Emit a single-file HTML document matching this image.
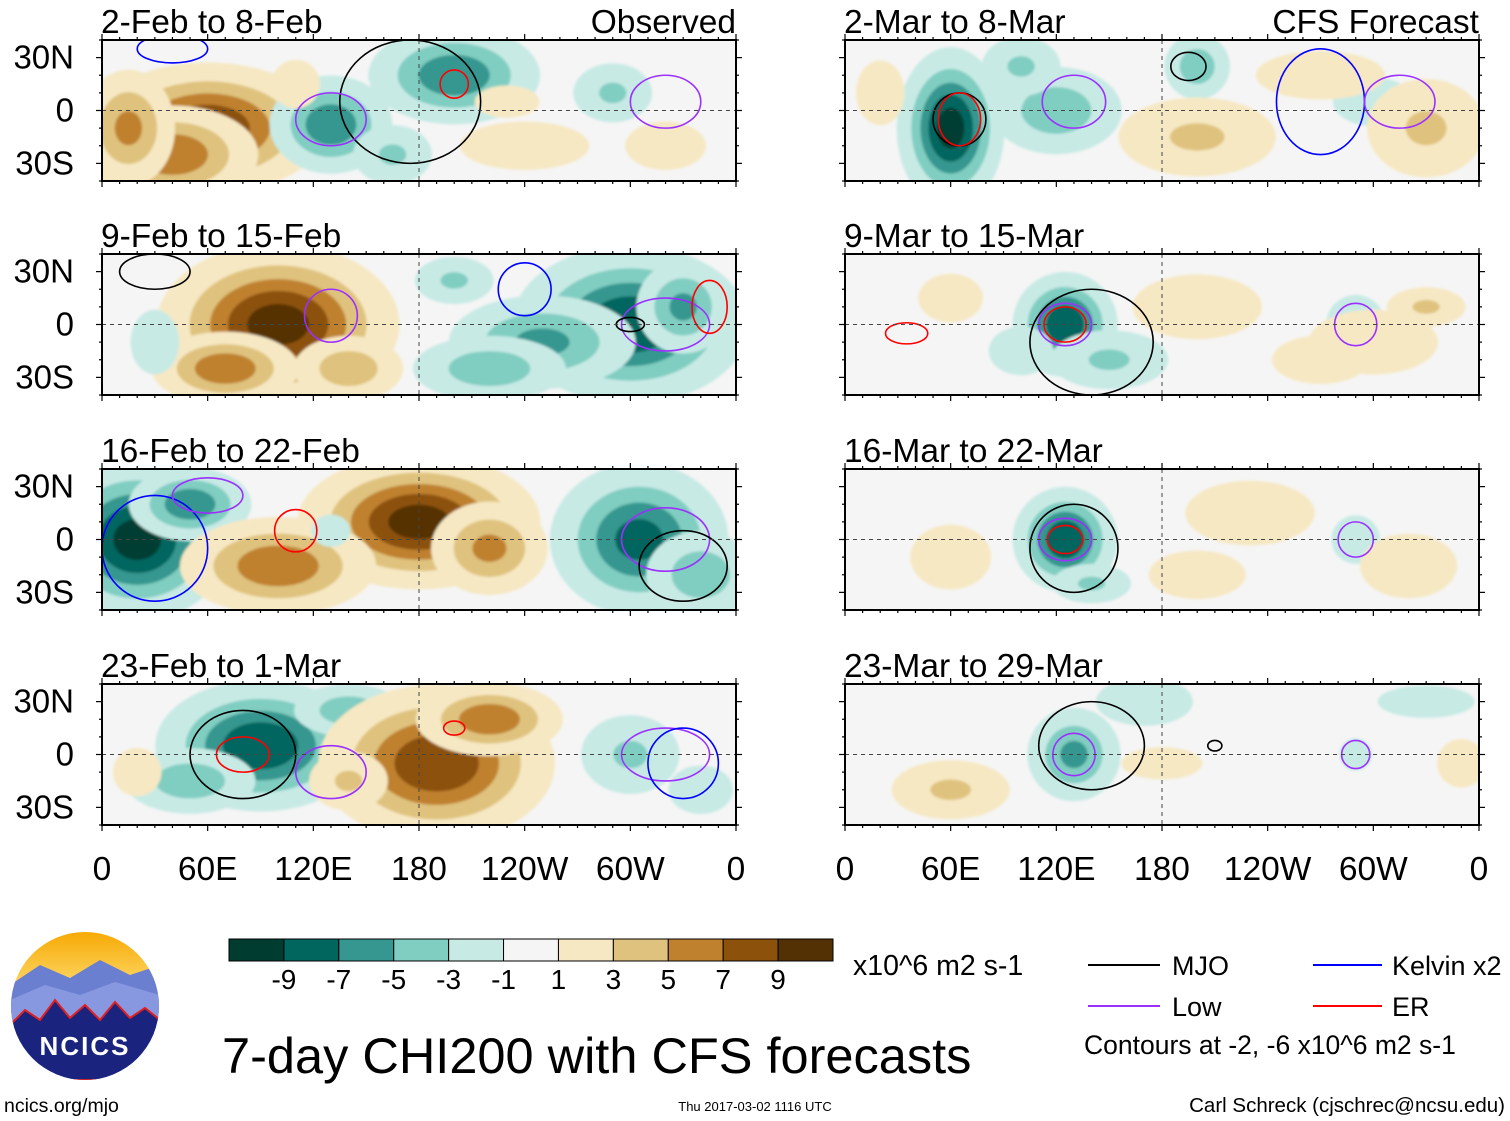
<!DOCTYPE html>
<html><head><meta charset="utf-8"><style>
html,body{margin:0;padding:0;background:#fff;}
svg{display:block;font-family:"Liberation Sans",Arial,sans-serif;}
</style></head><body>
<svg id="fig" width="1510" height="1121" viewBox="0 0 1510 1121" xmlns="http://www.w3.org/2000/svg">
<defs>
<linearGradient id="sky" x1="0" y1="0" x2="0" y2="1"><stop offset="0" stop-color="#f6a800"/><stop offset="0.45" stop-color="#ffe07a"/><stop offset="0.55" stop-color="#c9d8f0"/></linearGradient>
<clipPath id="logoclip"><circle cx="85" cy="1006" r="74"/></clipPath>
<filter id="soft" x="-5%" y="-5%" width="110%" height="110%"><feGaussianBlur stdDeviation="1.2"/></filter>
</defs>
<g id="panels"></g>
<g id="bottom">
<g clip-path="url(#logoclip)">
<rect x="10" y="930" width="150" height="150" fill="url(#sky)"/>
<path d="M10 985 L40 965 L70 978 L100 960 L130 975 L160 965 L160 1080 L10 1080Z" fill="#6b7fd0"/>
<path d="M10 1000 L45 985 L80 995 L115 982 L160 995 L160 1080 L10 1080Z" fill="#8898e0"/>
<path d="M10 1025 L25 1010 L40 1020 L55 1000 L70 1018 L85 1005 L100 1020 L115 1002 L130 1018 L145 1008 L160 1020 L160 1080 L10 1080Z" fill="#1a237e" stroke="#e02020" stroke-width="2"/>
<text x="85" y="1055" text-anchor="middle" font-size="26" font-weight="bold" fill="#fff" letter-spacing="2">NCICS</text>
</g>
<g id="cbar"></g>
<text x="853" y="975" font-size="28.5">x10^6 m2 s-1</text>
<text x="222" y="1073" font-size="50.5">7-day CHI200 with CFS forecasts</text>
<g>
<line x1="1088" y1="965" x2="1160" y2="965" stroke="#000" stroke-width="2"/><text x="1172" y="975" font-size="27">MJO</text>
<line x1="1313" y1="965" x2="1382" y2="965" stroke="#0000ff" stroke-width="2"/><text x="1392" y="975" font-size="27">Kelvin x2</text>
<line x1="1088" y1="1006" x2="1160" y2="1006" stroke="#9b30ff" stroke-width="2"/><text x="1172" y="1016" font-size="27">Low</text>
<line x1="1313" y1="1006" x2="1382" y2="1006" stroke="#ff0000" stroke-width="2"/><text x="1392" y="1016" font-size="27">ER</text>
<text x="1084" y="1054" font-size="26.5">Contours at -2, -6 x10^6 m2 s-1</text>
</g>
<text x="4" y="1112" font-size="19.5">ncics.org/mjo</text>
<text x="755" y="1111" font-size="13" text-anchor="middle">Thu 2017-03-02 1116 UTC</text>
<text x="1505" y="1112" font-size="20.5" text-anchor="end">Carl Schreck (cjschrec@ncsu.edu)</text>
</g>
</svg>
<script>
// ---- data ----
const panelTitles = ["2-Feb to 8-Feb","9-Feb to 15-Feb","16-Feb to 22-Feb","23-Feb to 1-Mar","2-Mar to 8-Mar","9-Mar to 15-Mar","16-Mar to 22-Mar","23-Mar to 29-Mar"];
const latTicks = [30,0,-30];
const latLabels = ["30N","0","30S"];
const lonTicks = [0,60,120,180,240,300,360];
const lonLabels = ["0","60E","120E","180","120W","60W","0"];
const cbarLevels = [-9,-7,-5,-3,-1,1,3,5,7,9];
const palette = ["#003c30","#01665e","#35978f","#80cdc1","#c7eae5","#f5f5f5","#f6e8c3","#dfc27d","#bf812d","#8c510a","#543005"];
// anomaly blobs per panel: [lon, lat, lonWidth, latWidth, peak]
const blobs0 = [[60,-10,45,25,8],[40,-25,35,20,6],[15,-10,20,25,5],[130,-8,25,20,-6],[200,20,35,20,-6],[165,-25,20,15,-3],[240,-20,40,15,2],[320,-20,25,15,2],[290,10,20,15,-3],[230,5,20,10,2],[110,15,15,15,2]];
const blobs1 = [[100,0,45,30,9],[70,-25,30,15,6],[140,-25,25,15,4],[30,-10,15,20,-2],[300,0,45,30,-8],[250,-10,40,20,-5],[220,-25,35,15,-4],[200,25,20,12,-3],[330,10,20,20,-5]];
const blobs2 = [[20,0,35,30,-9],[50,20,25,15,-6],[180,10,45,25,9],[100,-15,40,20,6],[220,-5,25,20,5],[305,0,35,30,-7],[340,-20,25,20,-4],[130,5,12,10,-2]];
const blobs3 = [[90,5,40,25,-8],[50,-15,30,15,-4],[140,25,25,12,-4],[190,-5,45,30,8],[220,20,30,15,6],[140,-15,20,15,3],[20,-10,15,15,2],[300,0,25,20,-3],[340,-20,20,15,-2]];
const blobs4 = [[60,-10,20,30,-9],[120,0,30,20,-4],[100,25,20,15,-3],[200,25,15,15,-4],[300,5,25,15,-2],[20,10,15,20,2],[200,-15,40,20,3],[330,-10,30,25,3],[270,20,40,15,2]];
const blobs5 = [[125,0,20,20,-8],[150,-20,30,15,-3],[100,-15,20,15,-2],[290,0,15,15,-3],[200,10,40,20,2],[300,-10,40,20,2],[330,10,20,10,3],[270,-20,30,15,2],[60,15,20,15,2]];
const blobs6 = [[125,0,20,20,-8],[140,-25,20,10,-3],[290,0,15,15,-2],[60,-10,25,20,2],[230,15,40,20,2],[320,-15,30,20,2],[200,-20,30,15,2]];
const blobs7 = [[130,0,20,20,-5],[170,30,30,15,-2],[330,30,30,10,-2],[290,0,10,10,-2],[60,-20,30,15,3],[180,-5,25,10,2],[350,-5,15,15,2]];
const allBlobs = [blobs0,blobs1,blobs2,blobs3,blobs4,blobs5,blobs6,blobs7];
// filtered-mode contours: [lon, lat, lonRadius, latRadius, type]
const contours0 = [[175,5,40,35,"mjo"],[130,-5,20,15,"low"],[320,5,20,15,"low"],[200,15,8,8,"er"],[40,35,20,8,"kelvin"]];
const contours1 = [[30,30,20,10,"mjo"],[320,0,25,15,"low"],[130,5,15,15,"low"],[240,20,15,15,"kelvin"],[345,10,10,15,"er"],[300,0,8,4,"mjo"]];
const contours2 = [[30,-5,30,30,"kelvin"],[60,25,20,10,"low"],[320,0,25,18,"low"],[110,5,12,12,"er"],[330,-15,25,20,"mjo"]];
const contours3 = [[80,0,30,25,"mjo"],[80,0,15,10,"er"],[130,-10,20,15,"low"],[320,0,25,15,"low"],[330,-5,20,20,"kelvin"],[200,15,6,4,"er"]];
const contours4 = [[65,-5,15,15,"mjo"],[65,-5,12,15,"er"],[130,5,18,15,"low"],[270,5,25,30,"kelvin"],[315,5,20,15,"low"],[195,25,10,8,"mjo"]];
const contours5 = [[125,0,15,12,"low"],[125,0,12,10,"er"],[140,-10,35,30,"mjo"],[290,0,12,12,"low"],[35,-5,12,6,"er"]];
const contours6 = [[125,0,15,12,"low"],[125,0,10,8,"er"],[130,-5,25,25,"mjo"],[290,0,10,10,"low"]];
const contours7 = [[130,0,12,12,"low"],[140,5,30,25,"mjo"],[210,5,4,3,"mjo"],[290,0,8,8,"low"]];
const allContours = [contours0,contours1,contours2,contours3,contours4,contours5,contours6,contours7];

const NS = "http://www.w3.org/2000/svg";
const colX = [102,845], rowY = [40,254,469,684], PW = 634, PH = 141;
const ctype = {mjo:"#000",kelvin:"#0000ff",low:"#9b30ff",er:"#ff0000"};
function mk(tag, attrs, parent){const e=document.createElementNS(NS,tag);for(const k in attrs)e.setAttribute(k,attrs[k]);parent.appendChild(e);return e;}
function colorFor(v){let i=0;while(i<cbarLevels.length && v>=cbarLevels[i])i++;return palette[i];}
const root = document.getElementById("panels");
for(let p=0;p<8;p++){
  const col = p<4?0:1, row = p%4;
  const x0 = colX[col], y0 = rowY[row];
  const xs = lon => x0 + lon/360*PW;
  const ys = lat => y0 + (40-lat)/80*PH;
  const g = mk("g",{},root);
  
  
  mk("clipPath",{id:"cp"+p},g).appendChild(document.createElementNS(NS,"rect"));
  const cr = g.querySelector("clipPath rect");
  cr.setAttribute("x",x0);cr.setAttribute("y",y0);cr.setAttribute("width",PW);cr.setAttribute("height",PH);
  mk("rect",{x:x0,y:y0,width:PW,height:PH,fill:palette[5]},g);
  const clipG = mk("g",{"clip-path":"url(#cp"+p+")"},g);
  const sh = mk("g",{filter:"url(#soft)"},clipG);
  
  
  allBlobs[p].forEach(b=>{
    const [lon,lat,sx,sy,pk]=b, m=Math.abs(pk), s=Math.sign(pk);
    [1,3,5,7,9].forEach(t=>{
      if(t>m) return;
      const f=Math.sqrt(Math.log(m/t)+0.15);
      const e=mk("ellipse",{cx:xs(lon),cy:ys(lat),rx:sx*f/360*PW,ry:sy*f/80*PH,fill:colorFor(s*(t+0.5))},sh);
      
      
    });
  });
  allContours[p].forEach(c=>{
    const e=mk("ellipse",{cx:xs(c[0]),cy:ys(c[1]),rx:c[2]/360*PW,ry:c[3]/80*PH,fill:"none",stroke:ctype[c[4]],"stroke-width":1.6},clipG);
    
    
  });
  mk("line",{x1:x0,x2:x0+PW,y1:ys(0),y2:ys(0),stroke:"#444","stroke-dasharray":"4,4","stroke-width":1},g);
  mk("line",{x1:xs(180),x2:xs(180),y1:y0,y2:y0+PH,stroke:"#444","stroke-dasharray":"4,4","stroke-width":1},g);
  mk("rect",{x:x0,y:y0,width:PW,height:PH,fill:"none",stroke:"#000","stroke-width":2},g);
  for(let l=0;l<=360;l+=10){const len=l%60==0?6:3;
    mk("line",{x1:xs(l),x2:xs(l),y1:y0,y2:y0-len,stroke:"#000","stroke-width":1.2},g);
    mk("line",{x1:xs(l),x2:xs(l),y1:y0+PH,y2:y0+PH+len,stroke:"#000","stroke-width":1.2},g);}
  for(let la=-40;la<=40;la+=10){const len=la%30==0?6:3;
    mk("line",{x1:x0,x2:x0-len,y1:ys(la),y2:ys(la),stroke:"#000","stroke-width":1.2},g);
    mk("line",{x1:x0+PW,x2:x0+PW+len,y1:ys(la),y2:ys(la),stroke:"#000","stroke-width":1.2},g);}
  const t=mk("text",{x:x0-1,y:y0-7,"font-size":33.5},g); t.textContent=panelTitles[p];
  
  
  if(p==0||p==4){const r=mk("text",{x:x0+PW,y:y0-7,"font-size":33.5,"text-anchor":"end"},g);r.textContent=p==0?"Observed":"CFS Forecast";
    
    }
  if(col==0){latTicks.forEach((la,i)=>{const tt=mk("text",{x:74,y:ys(la)+11,"font-size":33,"text-anchor":"end"},g);tt.textContent=latLabels[i];
    
    });}
  if(row==3){lonTicks.forEach((l,i)=>{const tt=mk("text",{x:xs(l),y:880,"font-size":33.5,"text-anchor":"middle"},g);tt.textContent=lonLabels[i];
    
    });}
}
// colorbar
const cb=document.getElementById("cbar");
const cbx=229, cbw=604/11;
palette.forEach((c,i)=>{const r=mk("rect",{x:cbx+i*cbw,y:939,width:cbw,height:22,fill:c,stroke:"#000","stroke-width":1},cb);
  
  });
cbarLevels.forEach((v,i)=>{const t=mk("text",{x:cbx+(i+1)*cbw,y:989,"font-size":28,"text-anchor":"middle"},cb);t.textContent=v;
  
  });
</script>
</body></html>
